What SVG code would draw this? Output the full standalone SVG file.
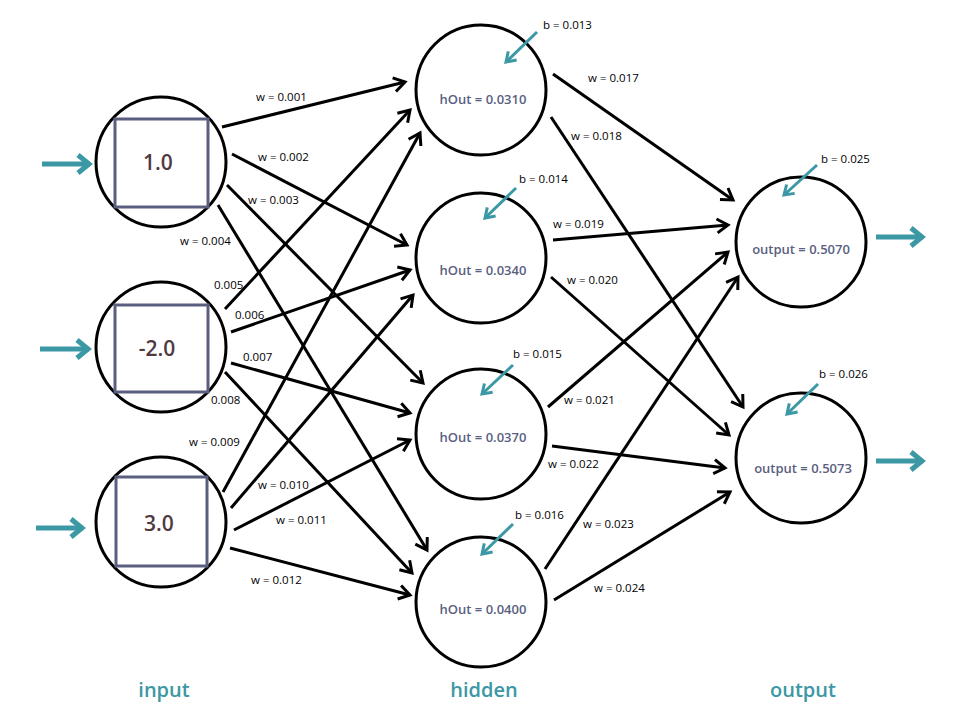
<svg xmlns="http://www.w3.org/2000/svg" width="960" height="720" viewBox="0 0 960 720">
<style>
.node{fill:#fff;stroke:#000;stroke-width:3}
.sq{fill:none;stroke:#5a5f80;stroke-width:3}
.num{font-family:"Open Sans","Liberation Sans",sans-serif;font-size:21px;font-weight:600;fill:#4f3a3f;text-anchor:middle}
.val{font-family:"Open Sans","Liberation Sans",sans-serif;font-size:13px;font-weight:600;fill:#5a607f;text-anchor:middle}
.w{font-family:"Open Sans","Liberation Sans",sans-serif;font-size:11.5px;fill:#000}
.layer{font-family:"Open Sans","Liberation Sans",sans-serif;font-size:20px;font-weight:600;fill:#3b98a4;text-anchor:middle}
.c{stroke:#000;stroke-width:3;fill:none;marker-end:url(#arr)}
.t{stroke:#3b98a4;stroke-width:5;fill:none;marker-end:url(#tarr)}
.b{stroke:#3b98a4;stroke-width:3;fill:none;marker-end:url(#barr)}
</style>
<defs>
<marker id="arr" markerUnits="userSpaceOnUse" markerWidth="18" markerHeight="18" viewBox="0 0 18 18" refX="15" refY="9" orient="auto"><path d="M4,2 L15,9 L4,16" fill="none" stroke="#000" stroke-width="3"/></marker>
<marker id="tarr" markerUnits="userSpaceOnUse" markerWidth="24" markerHeight="24" viewBox="0 0 24 24" refX="20" refY="12" orient="auto"><path d="M8,3 L19,12 L8,21" fill="none" stroke="#3b98a4" stroke-width="5"/></marker>
<marker id="barr" markerUnits="userSpaceOnUse" markerWidth="16" markerHeight="16" viewBox="0 0 16 16" refX="13" refY="8" orient="auto"><path d="M4,2 L13,8 L4,14" fill="none" stroke="#3b98a4" stroke-width="3"/></marker>
</defs>
<rect width="960" height="720" fill="#fff"/>

<g id="connectors">
<line class="c" x1="222" y1="127" x2="405" y2="82"/>
<line class="c" x1="232" y1="154" x2="407" y2="245"/>
<line class="c" x1="227" y1="185" x2="423" y2="383"/>
<line class="c" x1="218" y1="205" x2="427" y2="550"/>
<line class="c" x1="225" y1="309" x2="410" y2="110"/>
<line class="c" x1="231" y1="332" x2="410" y2="270"/>
<line class="c" x1="231" y1="363" x2="410" y2="413"/>
<line class="c" x1="225" y1="372" x2="412" y2="573"/>
<line class="c" x1="223" y1="492" x2="420" y2="133"/>
<line class="c" x1="231" y1="508" x2="413" y2="295"/>
<line class="c" x1="234" y1="530" x2="410" y2="440"/>
<line class="c" x1="230" y1="548" x2="410" y2="595"/>
<line class="c" x1="553" y1="74" x2="733" y2="200"/>
<line class="c" x1="551" y1="117" x2="743" y2="407"/>
<line class="c" x1="553" y1="240" x2="728" y2="225"/>
<line class="c" x1="551" y1="277" x2="729" y2="435"/>
<line class="c" x1="548" y1="407" x2="728" y2="252"/>
<line class="c" x1="552" y1="446" x2="725" y2="468"/>
<line class="c" x1="545" y1="569" x2="738" y2="277"/>
<line class="c" x1="554" y1="600" x2="730" y2="492"/>

<line class="t" x1="42" y1="164" x2="90" y2="164"/>
<line class="t" x1="40" y1="349" x2="89" y2="349"/>
<line class="t" x1="36" y1="528" x2="83" y2="528"/>
<line class="t" x1="876" y1="237" x2="923" y2="237"/>
<line class="t" x1="876" y1="461" x2="923" y2="461"/>

<text class="w" x="256" y="101">w = 0.001</text>
<text class="w" x="258" y="161">w = 0.002</text>
<text class="w" x="248" y="204">w = 0.003</text>
<text class="w" x="180" y="245">w = 0.004</text>
<text class="w" x="214" y="289">0.005</text>
<text class="w" x="235" y="319">0.006</text>
<text class="w" x="243" y="361">0.007</text>
<text class="w" x="211" y="404">0.008</text>
<text class="w" x="189" y="446">w = 0.009</text>
<text class="w" x="258" y="489">w = 0.010</text>
<text class="w" x="276" y="524">w = 0.011</text>
<text class="w" x="251" y="584">w = 0.012</text>
<text class="w" x="588" y="82">w = 0.017</text>
<text class="w" x="571" y="140">w = 0.018</text>
<text class="w" x="553" y="228">w = 0.019</text>
<text class="w" x="567" y="284">w = 0.020</text>
<text class="w" x="564" y="404">w = 0.021</text>
<text class="w" x="548" y="468">w = 0.022</text>
<text class="w" x="583" y="528">w = 0.023</text>
<text class="w" x="594" y="592">w = 0.024</text>
</g>

<g id="in1"><circle class="node" cx="161" cy="162" r="65"/><rect class="sq" x="115" y="119" width="93" height="88"/><text class="num" x="158" y="170">1.0</text></g>
<g id="in2"><circle class="node" cx="161" cy="347" r="65"/><rect class="sq" x="115" y="305" width="93" height="87"/><text class="num" x="157" y="356">-2.0</text></g>
<g id="in3"><circle class="node" cx="161" cy="522" r="65"/><rect class="sq" x="116" y="477" width="91" height="89"/><text class="num" x="159" y="531">3.0</text></g>

<g id="h1"><circle class="node" cx="481" cy="90" r="65"/><text class="val" x="483" y="104">hOut = 0.0310</text><line class="b" x1="537" y1="32" x2="506" y2="62"/><text class="w" x="543" y="29">b = 0.013</text></g>
<g id="h2"><circle class="node" cx="481" cy="258" r="65"/><text class="val" x="483" y="275">hOut = 0.0340</text><line class="b" x1="516" y1="188" x2="485" y2="218"/><text class="w" x="519" y="183">b = 0.014</text></g>
<g id="h3"><circle class="node" cx="481" cy="434" r="65"/><text class="val" x="483" y="442">hOut = 0.0370</text><line class="b" x1="513" y1="365" x2="482" y2="394"/><text class="w" x="513" y="358">b = 0.015</text></g>
<g id="h4"><circle class="node" cx="481" cy="602" r="65"/><text class="val" x="483" y="614">hOut = 0.0400</text><line class="b" x1="513" y1="524" x2="482" y2="554"/><text class="w" x="515" y="519">b = 0.016</text></g>

<g id="o1"><circle class="node" cx="801" cy="242" r="65"/><text class="val" x="801" y="254">output = 0.5070</text><line class="b" x1="817" y1="165" x2="784" y2="195"/><text class="w" x="821" y="163">b = 0.025</text></g>
<g id="o2"><circle class="node" cx="801" cy="458" r="65"/><text class="val" x="803" y="473">output = 0.5073</text><line class="b" x1="818" y1="384" x2="787" y2="414"/><text class="w" x="819" y="378">b = 0.026</text></g>

<text class="layer" x="164" y="697">input</text>
<text class="layer" x="484" y="697">hidden</text>
<text class="layer" x="803" y="697">output</text>
</svg>
